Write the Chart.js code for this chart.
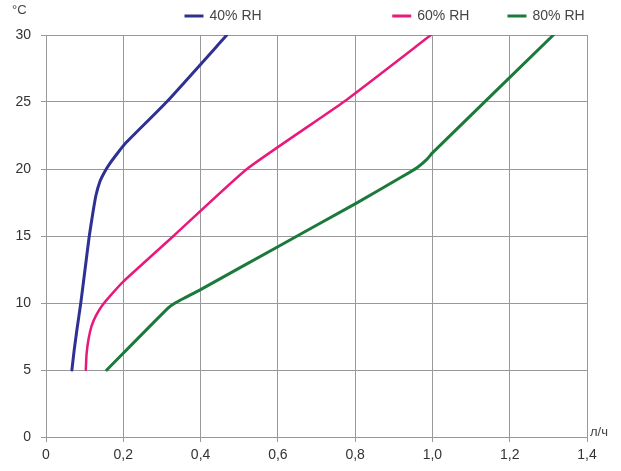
<!DOCTYPE html>
<html>
<head>
<meta charset="utf-8">
<script src="https://cdn.jsdelivr.net/npm/chart.js@4/dist/chart.umd.min.js"></script>
<style>
  html, body { margin: 0; padding: 0; background: #fff; }
  #wrap { width: 621px; height: 471px; }
</style>
</head>
<body>
<div id="wrap"><canvas id="chart" width="621" height="471"></canvas></div>
<script>
// flow, l/h  vs  temperature, °C
const rh40X = [0.067, 0.073, 0.080, 0.090, 0.101, 0.112, 0.120, 0.129, 0.140, 0.152, 0.165, 0.183, 0.205, 0.312, 0.468];
const rh40Y = [5, 6.5, 8, 10, 12.5, 15, 16.5, 18, 19.1, 19.8, 20.4, 21.1, 21.9, 25, 30];

const rh60X = [0.103, 0.105, 0.110, 0.118, 0.130, 0.145, 0.165, 0.200, 0.330, 0.520, 0.770, 0.996];
const rh60Y = [5, 6.2, 7.3, 8.3, 9.1, 9.8, 10.5, 11.6, 15, 20, 25, 30];

const rh80X = [0.157, 0.315, 0.334, 0.360, 0.400, 0.600, 0.800, 0.920, 0.960, 0.985, 1.0, 1.313];
const rh80Y = [5, 9.6, 10, 10.4, 11, 14.2, 17.4, 19.4, 20.1, 20.7, 21.2, 30];

const seriesNames = ["40% RH", "60% RH", "80% RH"];
const seriesColors = ["#2e3192", "#e8197c", "#1b7a3b"];
const xTicks = [0, 0.2, 0.4, 0.6, 0.8, 1.0, 1.2, 1.4];
const yTicks = [0, 5, 10, 15, 20, 25, 30];

const FONT = "'Liberation Sans Narrow', 'Liberation Sans', sans-serif";

function pts(xs, ys) {
  return xs.map((x, i) => ({ x: x, y: ys[i] }));
}

const datasets = [pts(rh40X, rh40Y), pts(rh60X, rh60Y), pts(rh80X, rh80Y)].map((d, i) => ({
  label: seriesNames[i],
  data: d,
  borderColor: seriesColors[i],
  backgroundColor: seriesColors[i],
  borderWidth: i == 1 ? 2.5 : 3,
  pointRadius: 0,
  tension: 0.15,
  borderCapStyle: "round",
  borderJoinStyle: "round",
  fill: false,
}));

// legend sits at uneven spots above the plot, so it is drawn by hand
const legendAt = [0.256, 0.64, 0.853];

const extras = {
  id: "extras",
  afterDraw(chart) {
    const ctx = chart.ctx;
    const a = chart.chartArea;
    ctx.save();
    ctx.font = "14px " + FONT;
    ctx.textBaseline = "middle";
    ctx.fillStyle = "#444";
    for (let i = 0; i < seriesNames.length; i++) {
      const x = a.left + legendAt[i] * (a.right - a.left);
      ctx.strokeStyle = seriesColors[i];
      ctx.lineWidth = 3;
      ctx.beginPath();
      ctx.moveTo(x, 16);
      ctx.lineTo(x + 19, 16);
      ctx.stroke();
      ctx.fillText(seriesNames[i], x + 25, 16);
    }
    ctx.font = "13px " + FONT;
    ctx.fillText("°C", 12, 10);
    ctx.fillText("л/ч", a.right + 3, a.bottom - 5);
    ctx.restore();
  },
};

new Chart(document.getElementById("chart").getContext("2d"), {
  type: "line",
  data: { datasets: datasets },
  options: {
    responsive: false,
    animation: false,
    layout: { padding: { top: 35, right: 34, left: 0, bottom: 0 } },
    plugins: { legend: { display: false }, tooltip: { enabled: false } },
    scales: {
      x: {
        type: "linear",
        min: 0,
        max: 1.4,
        afterBuildTicks: (s) => { s.ticks = xTicks.map((v) => ({ value: v })); },
        afterFit: (s) => { s.height = 34; },
        grid: { color: "#999", lineWidth: 1, tickLength: 5, drawTicks: true },
        border: { color: "#999" },
        ticks: {
          color: "#333",
          padding: 5,
          font: { family: FONT, size: 14 },
          callback: (v) => v.toFixed(1).replace(".", ",").replace(/^0,0$/, "0"),
        },
      },
      y: {
        type: "linear",
        min: 0,
        max: 30,
        afterBuildTicks: (s) => { s.ticks = yTicks.map((v) => ({ value: v })); },
        afterFit: (s) => { s.width = 46; },
        grid: { color: "#999", lineWidth: 1, tickLength: 5 },
        border: { color: "#999" },
        ticks: {
          color: "#333",
          padding: 10,
          font: { family: FONT, size: 14 },
        },
      },
    },
  },
  plugins: [extras],
});
</script>
</body>
</html>
